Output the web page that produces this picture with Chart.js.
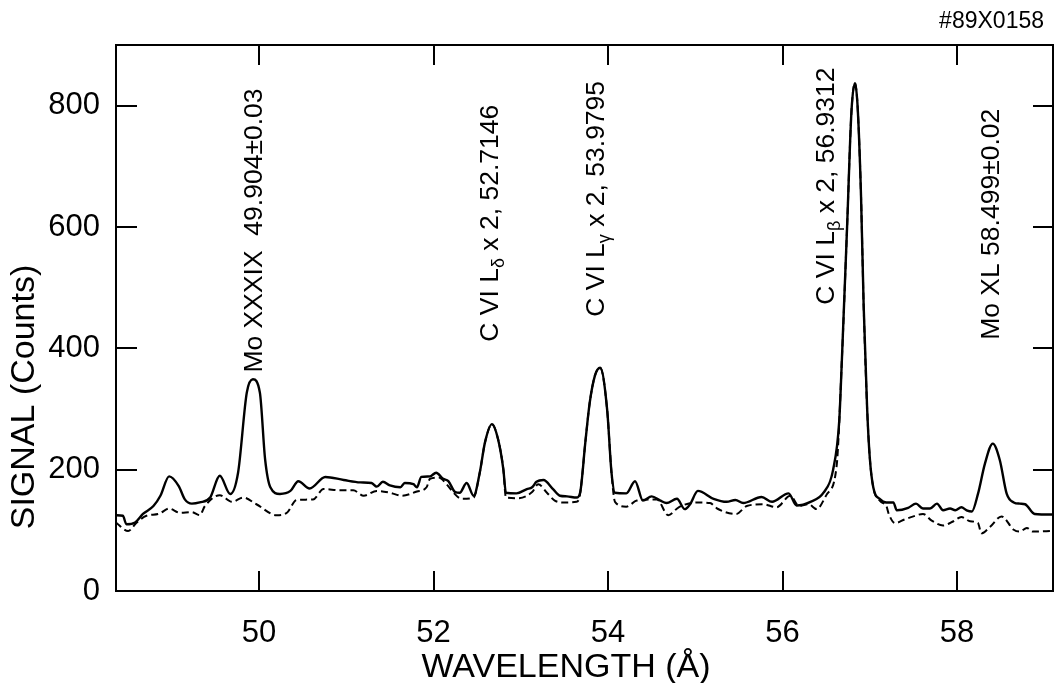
<!DOCTYPE html>
<html><head><meta charset="utf-8">
<script src="https://cdn.jsdelivr.net/npm/chart.js@4.4.1/dist/chart.umd.min.js"></script>
<style>html,body{margin:0;padding:0;background:#fff}#wrap{width:1057px;height:683px;position:relative}canvas{display:block}</style>
</head><body><div id="wrap"><canvas id="c" width="1057" height="683"></canvas></div>
<script>
// Wavelength (Å) and signal (counts), solid trace
const solidX = [48.36,48.44,48.48,48.58,48.67,48.79,48.87,48.97,49.08,49.15,49.23,49.32,49.44,49.55,49.67,49.76,49.86,49.93,50.01,50.07,50.13,50.24,50.36,50.45,50.58,50.76,50.97,51.16,51.29,51.35,51.42,51.50,51.62,51.67,51.77,51.81,51.86,51.96,52.03,52.11,52.17,52.25,52.30,52.38,52.46,52.53,52.59,52.67,52.74,52.80,52.83,52.95,53.07,53.13,53.18,53.26,53.37,53.45,53.53,53.64,53.68,53.74,53.79,53.85,53.91,53.99,54.04,54.08,54.21,54.31,54.40,54.50,54.60,54.67,54.79,54.88,54.94,55.03,55.21,55.36,55.46,55.55,55.76,55.88,56.07,56.16,56.32,56.47,56.58,56.65,56.68,56.74,56.79,56.83,56.86,56.90,56.93,56.97,57.00,57.04,57.12,57.19,57.27,57.31,57.44,57.53,57.61,57.69,57.77,57.84,57.92,57.98,58.05,58.11,58.17,58.24,58.32,58.41,58.49,58.57,58.65,58.72,58.78,58.89,59.10];
const solidY = [125,124,110,113,127,140,157,189,173,151,144,146,154,190,160,195,327,349,327,217,171,160,165,181,169,188,183,179,178,172,180,174,171,178,176,171,188,189,195,185,181,163,162,178,157,195,245,275,250,201,162,161,168,171,180,183,168,157,156,154,162,245,310,355,368,299,195,162,161,181,149,156,149,145,152,135,143,165,152,147,150,145,155,147,161,141,147,162,200,280,380,600,790,837,800,650,470,300,220,171,151,146,146,133,137,144,136,136,144,133,136,133,138,133,131,160,210,243,216,160,146,144,143,127,126];
// dashed trace
const dashX = [48.36,48.50,48.60,48.71,48.85,48.97,49.09,49.23,49.32,49.38,49.55,49.69,49.82,49.97,50.20,50.32,50.43,50.62,50.74,50.93,51.08,51.20,51.35,51.50,51.64,51.81,51.92,51.96,52.06,52.15,52.23,52.32,52.46,52.53,52.59,52.67,52.74,52.80,52.83,52.97,53.13,53.20,53.30,53.39,53.49,53.64,53.68,53.74,53.79,53.85,53.91,53.99,54.04,54.08,54.21,54.33,54.56,54.69,54.81,55.02,55.17,55.25,55.47,55.59,55.78,55.93,56.09,56.19,56.30,56.39,56.51,56.62,56.68,56.74,56.79,56.83,56.86,56.90,56.93,56.97,57.00,57.04,57.12,57.19,57.22,57.29,57.40,57.50,57.61,57.71,57.84,57.96,58.05,58.15,58.24,58.28,58.38,58.51,58.65,58.72,58.80,58.87,59.10];
const dashY = [113,99,113,124,127,136,129,130,125,140,158,147,154,143,125,129,150,151,168,166,166,157,165,162,157,164,171,185,187,176,162,152,154,195,245,275,250,201,154,153,163,176,162,149,146,147,160,245,310,355,368,299,195,147,139,149,151,125,138,146,145,136,127,140,143,138,157,140,143,135,160,206,380,600,790,837,800,650,470,300,220,171,148,140,126,112,118,123,127,116,108,115,122,115,112,95,106,123,101,98,104,98,99];

const xTicks = [50,52,54,56,58];
const yTicks = [0,200,400,600,800];

// line annotations ("_" marks a one-character subscript)
const lineLabels = ["Mo XXXIX  49.904\u00B10.03", "C VI L_\u03B4 x 2, 52.7146", "C VI L_\u03B3 x 2, 53.9795", "C VI L_\u03B2 x 2, 56.9312", "Mo XL 58.499\u00B10.02"];
const lineLabelX = [49.95, 52.65, 53.87, 56.51, 58.40];
const lineLabelY = [360, 411, 452, 472, 414];

const xTitle = "WAVELENGTH (\u00C5)";
const yTitle = "SIGNAL (Counts)";
const figId = "#89X0158";

const FONT = '"Liberation Sans", Arial, Helvetica, sans-serif';

function pts(xs, ys){ return xs.map((x,i)=>({x:x, y:ys[i]})); }

function drawRotated(ctx, str, x, y, size){
  const segs = [];
  for (let i=0;i<str.length;i++){
    if (str[i]==='_' && i+1<str.length){ segs.push({t:str[i+1], sub:true}); i++; }
    else {
      if (segs.length && !segs[segs.length-1].sub) segs[segs.length-1].t += str[i];
      else segs.push({t:str[i], sub:false});
    }
  }
  ctx.save();
  ctx.translate(x, y);
  ctx.rotate(-Math.PI/2);
  ctx.textAlign='left'; ctx.textBaseline='middle'; ctx.fillStyle='#000';
  let cx = 0;
  for (const s of segs){
    if (s.sub){ ctx.font = (size*0.68)+'px '+FONT; ctx.fillText(s.t, cx, size*0.32); }
    else { ctx.font = size+'px '+FONT; ctx.fillText(s.t, cx, 0); }
    cx += ctx.measureText(s.t).width;
  }
  ctx.restore();
}

const framePlugin = {
  id:'frame',
  afterDatasetsDraw(chart){
    const ctx = chart.ctx, a = chart.chartArea;
    const xs = chart.scales.x, ys = chart.scales.y;
    ctx.save();
    ctx.strokeStyle='#000'; ctx.lineWidth=2;
    ctx.strokeRect(a.left, a.top, a.right-a.left, a.bottom-a.top);
    ctx.beginPath();
    xTicks.forEach(v=>{
      const px = Math.round(xs.getPixelForValue(v));
      ctx.moveTo(px, a.bottom); ctx.lineTo(px, a.bottom-20);
      ctx.moveTo(px, a.top); ctx.lineTo(px, a.top+20);
    });
    yTicks.forEach(v=>{
      if (v===0) return;
      const py = Math.round(ys.getPixelForValue(v));
      ctx.moveTo(a.left, py); ctx.lineTo(a.left+21, py);
      ctx.moveTo(a.right, py); ctx.lineTo(a.right-20, py);
    });
    ctx.stroke();
    // annotations
    lineLabels.forEach((t,i)=>{
      drawRotated(ctx, t, xs.getPixelForValue(lineLabelX[i]), ys.getPixelForValue(lineLabelY[i]), 26.5);
    });
    // titles
    ctx.fillStyle='#000';
    ctx.font = '34px '+FONT; ctx.textAlign='center'; ctx.textBaseline='middle';
    ctx.fillText(xTitle, 566, 668);
    ctx.save(); ctx.translate(25, 397); ctx.rotate(-Math.PI/2);
    ctx.fillText(yTitle, 0, 0); ctx.restore();
    ctx.font = '23px '+FONT; ctx.textAlign='right'; ctx.textBaseline='alphabetic';
    ctx.fillText(figId, 1044, 28);
    ctx.restore();
  }
};

new Chart(document.getElementById('c'), {
  type:'line',
  data:{ datasets:[
    { label:'solid', data:pts(solidX, solidY), borderColor:'#000', borderWidth:2.4, pointRadius:0, cubicInterpolationMode:'monotone', fill:false },
    { label:'dashed', data:pts(dashX, dashY), borderColor:'#000', borderWidth:2, borderDash:[7,4], pointRadius:0, cubicInterpolationMode:'monotone', fill:false }
  ]},
  options:{
    responsive:false, animation:false, devicePixelRatio:1,
    layout:{ padding:{ top:45, right:4, left:0, bottom:0 } },
    plugins:{ legend:{display:false}, tooltip:{enabled:false} },
    scales:{
      x:{ type:'linear', min:48.361, max:59.10,
        afterBuildTicks(s){ s.ticks = xTicks.map(v=>({value:v})); },
        afterFit(s){ s.height = 92; },
        grid:{ display:false, drawTicks:false }, border:{ display:false },
        ticks:{ color:'#000', font:{ size:31, family:FONT }, padding:24, maxRotation:0, autoSkip:false }
      },
      y:{ type:'linear', min:0, max:900,
        afterBuildTicks(s){ s.ticks = yTicks.map(v=>({value:v})); },
        afterFit(s){ s.width = 116; },
        grid:{ display:false, drawTicks:false }, border:{ display:false },
        ticks:{ color:'#000', font:{ size:31, family:FONT }, padding:16, autoSkip:false }
      }
    }
  },
  plugins:[framePlugin]
});
</script></body></html>
